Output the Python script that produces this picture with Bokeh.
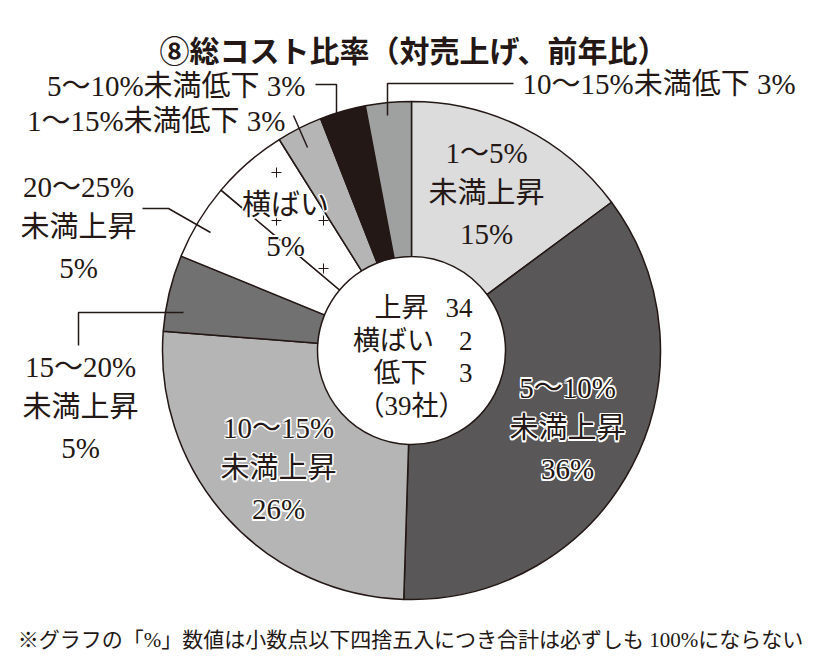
import math
from bokeh.plotting import figure
from bokeh.models import Range1d, ColumnDataSource
from bokeh.core.properties import value
from bokeh.embed import file_html
from bokeh.resources import INLINE

# ---------------- data ----------------
title_text = "⑧総コスト比率（対売上げ、前年比）"
footnote_text = "※グラフの「%」数値は小数点以下四捨五入につき合計は必ずしも 100%にならない"

# slices, clockwise from 12 o'clock
ranges = ["1～5%", "5～10%", "10～15%", "15～20%", "20～25%", "", "1～15%", "5～10%", "10～15%"]
kinds = ["未満上昇", "未満上昇", "未満上昇", "未満上昇", "未満上昇", "横ばい", "未満低下", "未満低下", "未満低下"]
shares = [15, 36, 26, 5, 5, 5, 3, 3, 3]
colors = ["#dcdcdd", "#595757", "#b5b5b6", "#727171", "#ffffff", "#ffffff", "#b5b5b6", "#231815", "#9fa0a0"]

summary_labels = ["上昇", "横ばい", "低下"]
summary_counts = [34, 2, 3]
total_companies = 39

# ---------------- layout ----------------
W, H = 804, 656
INK = "#231815"
SERIF = value("Liberation Serif, Noto Sans CJK JP")
SANS = value("Noto Sans CJK JP")


def X(px):
    return px


def Y(py):
    return H - py


p = figure(width=W, height=H, x_range=Range1d(0, W), y_range=Range1d(0, H),
           output_backend="svg", toolbar_location=None,
           x_axis_type=None, y_axis_type=None, min_border=0,
           outline_line_color=None, background_fill_color="white",
           border_fill_color="white")
p.grid.visible = False

cx, cy = X(411), Y(350)
R_OUT, R_IN = 249, 94

total = sum(shares)
starts, ends = [], []
acc = 0
for s in shares:
    starts.append(math.radians(90 - acc / total * 360))
    acc += s
    ends.append(math.radians(90 - acc / total * 360))

src = ColumnDataSource(dict(x=[cx] * len(shares), y=[cy] * len(shares),
                            start=starts, end=ends, color=colors))
p.annular_wedge(x="x", y="y", inner_radius=R_IN, outer_radius=R_OUT,
                start_angle="start", end_angle="end", direction="clock",
                fill_color="color", line_color=INK, line_width=1.5, source=src)

# "+" texture of the 横ばい slice: a regular grid clipped to the slice
k = kinds.index("横ばい")
a_hi = (math.degrees(starts[k]) % 360) - 1.5
a_lo = (math.degrees(ends[k]) % 360) + 1.5
gx, gy = [], []
for i in range(-4, 8):
    for j in range(-4, 8):
        px = 276 + 47 * i
        py = 172 + 48 * j
        dx, dy = X(px) - cx, Y(py) - cy
        r = math.hypot(dx, dy)
        ang = math.degrees(math.atan2(dy, dx)) % 360
        if R_IN + 12 < r < R_OUT - 12 and a_lo < ang < a_hi:
            gx.append(X(px))
            gy.append(Y(py))
p.scatter(gx, gy, marker="cross", size=10, line_color=INK, line_width=1)


def draw_text(px, py, t, size, align="center", font=SERIF, halo=False, style="normal"):
    if halo:
        hx, hy = [], []
        for a in range(0, 360, 45):
            hx.append(X(px) + 1.5 * math.cos(math.radians(a)))
            hy.append(Y(py) + 1.5 * math.sin(math.radians(a)))
        p.text(hx, hy, text=[t] * len(hx), text_align=align, text_baseline="middle",
               text_font=font, text_font_size=value(size), text_color="white",
               text_line_height=1.28, text_font_style=style)
    p.text([X(px)], [Y(py)], text=[t], text_align=align, text_baseline="middle",
           text_font=font, text_font_size=value(size), text_color=INK,
           text_line_height=1.28, text_font_style=style)


# slice labels
label_pos = {0: (486, 193, "center"), 1: (567, 428, "center"), 2: (278, 468, "center"),
             3: (80, 407, "center"), 4: (78, 227, "center"), 5: (285, 225, "center"),
             6: (285, 120, "right"), 7: (305, 85, "right"), 8: (522, 83, "left")}
halo_idx = {1, 2, 5}
for i in range(len(shares)):
    if kinds[i] == "横ばい":
        t = f"{kinds[i]}\n{shares[i]}%"
    elif kinds[i] == "未満低下":
        t = f"{ranges[i]}{kinds[i]} {shares[i]}%"
    else:
        t = f"{ranges[i]}\n{kinds[i]}\n{shares[i]}%"
    px, py, al = label_pos[i]
    draw_text(px, py, t, "29px", align=al, halo=i in halo_idx)

# leader lines
leaders = [
    ([513, 387, 387], [83, 83, 115]),
    ([315, 336, 336], [84, 84, 113]),
    ([293, 307], [115, 147]),
    ([142, 168, 210], [208, 208, 232]),
    ([78, 78, 183], [345, 312, 312]),
]
for xs, ys in leaders:
    p.line([X(v) for v in xs], [Y(v) for v in ys], line_color=INK, line_width=1.5)

# centre summary
row_y = [307, 340, 372]
row_cx = [401, 393, 400]
for lab, cnt, ry, rx in zip(summary_labels, summary_counts, row_y, row_cx):
    draw_text(rx, ry, lab, "27px")
    draw_text(472, ry, str(cnt), "27px", align="right")
draw_text(411, 405, f"（{total_companies}社）", "27px")

# title and footnote
draw_text(413, 48, title_text, "30px", font=SANS, style="bold")
draw_text(410, 639, footnote_text, "21px")

open("out.html", "w").write(file_html(p, INLINE))
